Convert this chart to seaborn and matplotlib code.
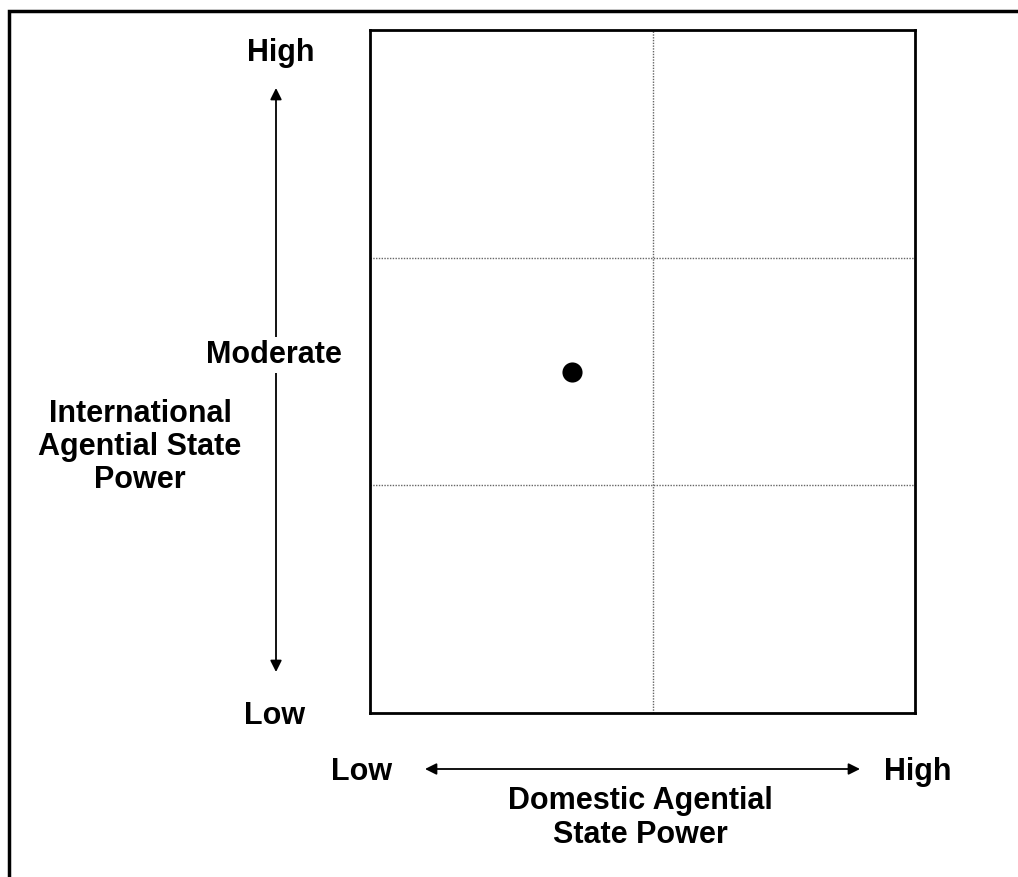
import matplotlib
matplotlib.use("Agg")
import matplotlib.pyplot as plt
import seaborn as sns
import pandas as pd
from matplotlib.patches import Rectangle, FancyArrowPatch

# grid of categories: 2 columns (domestic), 3 rows (international)
x_cuts = [1.04]
y_cuts = [1, 2]
x_range = [0, 2]
y_range = [0, 3]

# the one case placed in the grid
point_x = [0.74]
point_y = [1.5]

y_levels = ["Low", "Moderate", "High"]
x_levels = ["Low", "High"]
y_title = "International\nAgential State\nPower"
x_title = "Domestic Agential\nState Power"

W, H = 1018, 877
sns.set_style("white")
plt.rcParams['font.family'] = ['Liberation Sans', 'DejaVu Sans']

fig = plt.figure(figsize=(W / 100, H / 100), dpi=100)
ax = fig.add_axes([370 / W, 1 - 713 / H, 545 / W, 683 / H])

df = pd.DataFrame({"x": point_x, "y": point_y})
sns.scatterplot(data=df, x="x", y="y", ax=ax, s=210, color="black",
                edgecolor="black", linewidth=0, zorder=3)

for xc in x_cuts:
    ax.axvline(xc, color="#666666", linestyle=(0, (1, 1)), linewidth=1)
for yc in y_cuts:
    ax.axhline(yc, color="#666666", linestyle=(0, (1, 1)), linewidth=1)

ax.set_xlim(*x_range)
ax.set_ylim(*y_range)
ax.set_xticks([])
ax.set_yticks([])
ax.set_xlabel("")
ax.set_ylabel("")
for sp in ax.spines.values():
    sp.set_visible(True)
    sp.set_color("black")
    sp.set_linewidth(2)


def px(x, y):
    return (x / W, 1 - y / H)


txt = dict(fontsize=22, fontweight="bold", ha="center", va="center",
           color="black", zorder=5)

arrow = dict(arrowstyle="<|-|>", color="black", lw=1.3,
             mutation_scale=17, shrinkA=0, shrinkB=0, zorder=2)
fig.add_artist(FancyArrowPatch(
    px(276, 88), px(276, 672), transform=fig.transFigure, **arrow))
fig.add_artist(FancyArrowPatch(
    px(425, 769), px(860, 769), transform=fig.transFigure, **arrow))

# vertical axis labels
fig.text(*px(281, 53), y_levels[2], **txt)
fig.text(*px(274, 355), y_levels[1],
         bbox=dict(facecolor="white", edgecolor="none", pad=2), **txt)
fig.text(*px(275, 716), y_levels[0], **txt)
fig.text(*px(140, 447), y_title, linespacing=1.15, **txt)

# horizontal axis labels
fig.text(*px(362, 772), x_levels[0], **txt)
fig.text(*px(918, 772), x_levels[1], **txt)
fig.text(*px(640, 818), x_title, linespacing=1.15, **txt)

# outer frame
fig.patches.append(Rectangle(px(9, 900), (1040 - 9) / W, (900 - 11) / H,
                             transform=fig.transFigure, fill=False,
                             edgecolor="black", linewidth=2.5))

fig.savefig("out.png", dpi=100)
